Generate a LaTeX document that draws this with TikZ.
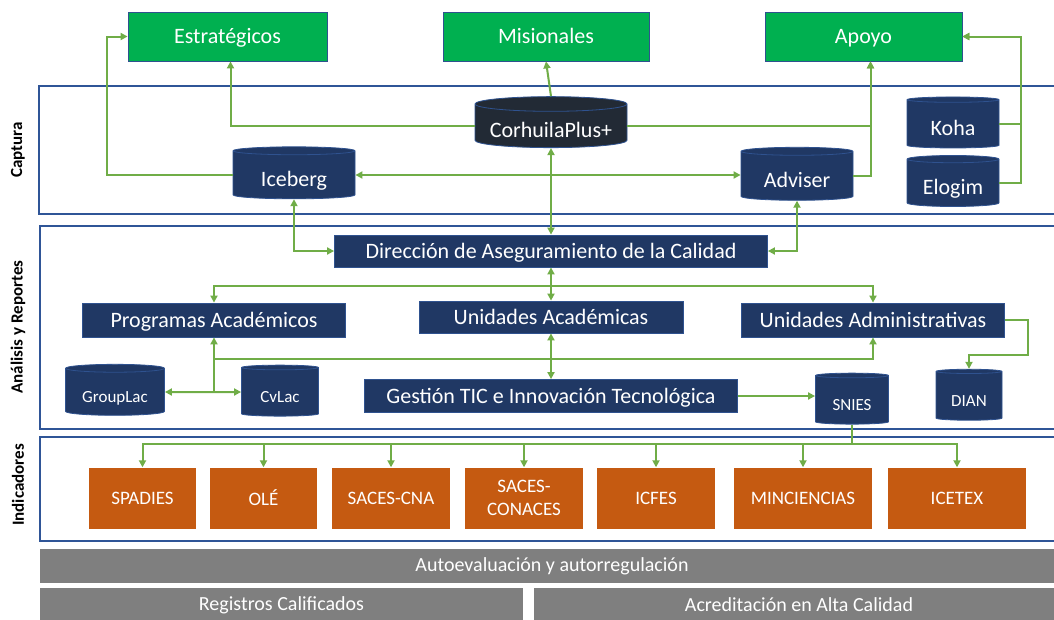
\documentclass[tikz,border=0pt]{standalone}
\usepackage{fontspec}
\setmainfont{Carlito}
\usetikzlibrary{shapes.geometric,arrows.meta}
\definecolor{verde}{HTML}{00B050}
\definecolor{navy}{HTML}{203864}
\definecolor{oscuro}{HTML}{222A35}
\definecolor{edge}{HTML}{2F528F}
\definecolor{marco}{HTML}{2F5597}
\definecolor{linea}{HTML}{70AD47}
\definecolor{naranja}{HTML}{C55A11}
\definecolor{gris}{HTML}{7F7F7F}

\begin{document}
\begin{tikzpicture}[x=1pt,y=-1pt,
  box/.style={draw=edge,line width=0.8pt,minimum height=33,inner sep=0pt,text=white,text height=14pt,text depth=0pt,font=\fontsize{22}{26}\selectfont},
  gbox/.style={box,fill=verde,minimum height=49},
  nbox/.style={box,fill=navy},
  obox/.style={fill=naranja,text=white,minimum height=61,inner sep=0pt,align=center,font=\fontsize{19}{23}\selectfont},
  bar/.style={fill=gris,text=white,minimum height=34,inner sep=0pt,font=\fontsize{20}{24}\selectfont},
  db/.style={cylinder,shape border rotate=90,aspect=0.12,draw=edge,line width=0.8pt,fill=navy,text=white,inner sep=0pt,text height=23pt,text depth=0pt,font=\fontsize{22}{26}\selectfont},
  sdb/.style={db,text height=21pt,font=\fontsize{17}{20}\selectfont},
  zone/.style={draw=marco,line width=2.5pt},
  lab/.style={rotate=90,font=\bfseries\fontsize{17}{20}\selectfont},
  con/.style={draw=linea,line width=2pt},
  arr/.style={con,-{Triangle[length=7pt,width=7pt]}},
  arrs/.style={con,{Triangle[length=7pt,width=7pt]}-{Triangle[length=7pt,width=7pt]}}]
  \useasboundingbox (0,0) rectangle (1054,619);

  \draw[zone] (39,86) rectangle (1064,214);
  \draw[zone] (40,226) rectangle (1064,429);
  \draw[zone] (40,437) rectangle (1064,541);
  \node[lab] (lcap) at (18,150) {Captura};
  \node[lab] (lana) at (18,327) {Análisis y Reportes};
  \node[lab] (lind) at (18,485) {Indicadores};

  \node[gbox,minimum width=199] (estr) at (227.5,36.5) {Estratégicos};
  \node[gbox,minimum width=206] (misi) at (546,36.5) {Misionales};
  \node[gbox,minimum width=197] (apoy) at (863.5,36.5) {Apoyo};

  \node[db,fill=oscuro,minimum width=152,minimum height=51] (corh) at (551,126) {CorhuilaPlus+};
  \node[db,minimum width=122,minimum height=52] (iceb) at (294,175) {Iceberg};
  \node[db,minimum width=112,minimum height=53] (advi) at (797,176) {Adviser};
  \node[db,minimum width=92,minimum height=51] (koha) at (953,124) {Koha};
  \node[db,minimum width=92,minimum height=51] (elog) at (953,183) {Elogim};

  \node[nbox,minimum width=433,minimum height=32] (dire) at (551,251) {Dirección de Aseguramiento de la Calidad};
  \node[nbox,minimum width=263,minimum height=34] (prog) at (214,320) {Programas Académicos};
  \node[nbox,minimum width=264,minimum height=32] (unac) at (551,317) {Unidades Académicas};
  \node[nbox,minimum width=263,minimum height=34] (unad) at (873,320) {Unidades Administrativas};
  \node[nbox,minimum width=373,minimum height=33] (gest) at (551,396) {Gestión TIC e Innovación Tecnológica};

  \node[sdb,minimum width=99,minimum height=51] (grou) at (115,392) {GroupLac};
  \node[sdb,minimum width=77,minimum height=51] (cvla) at (280,392) {CvLac};
  \node[sdb,minimum width=73,minimum height=51] (snie) at (852,400) {SNIES};
  \node[sdb,minimum width=66,minimum height=51] (dian) at (969,396) {DIAN};

  \foreach \nm/\x/\w/\t in {spad/142.5/107/SPADIES,ole/263.5/107/OLÉ,cna/391/118/SACES-CNA,
      conac/524/118/{SACES-\\CONACES},icfes/656/118/ICFES,minc/803/138/MINCIENCIAS,icet/957/138/ICETEX}
    \node[obox,minimum width=\w] (\nm) at (\x,498) {\t};

  \node[bar,minimum width=1024] (auto) at (552,566) {Autoevaluación y autorregulación};
  \node[bar,minimum width=483] (regi) at (281.5,605) {Registros Calificados};
  \node[bar,minimum width=530] (acre) at (799,605) {Acreditación en Alta Calidad};

  \draw[arr] (iceb.west) -- ++(-126,0) |- (estr.west);
  \draw[arr] (corh.west) -| ([xshift=3pt]estr.south);
  \draw[arr] (corh.north) -- (misi.south);
  \draw[arr] (corh.east) -| ([xshift=7pt]apoy.south);
  \draw[arr] (advi.east) -| ([xshift=7pt]apoy.south);
  \draw[arr] (koha.east) -- ++(22,0) |- (apoy.east);
  \draw[arr] (elog.east) -- ++(22,0) |- (apoy.east);
  \draw[arrs] (iceb.east) -- (iceb.east -| advi.west);
  \draw[arrs] (corh.south) -- (dire.north);
  \draw[arrs] (iceb.south) |- (dire.west);
  \draw[arrs] (advi.south) |- (dire.east);
  \draw[arrs] (dire.south) -- (unac.north);
  \coordinate (bus1) at ([yshift=-19pt]dire.south);
  \draw[arr] (bus1) -| (prog.north);
  \draw[arr] (bus1) -| (unad.north);
  \draw[arrs] (unac.south) -- (gest.north);
  \coordinate (bus2) at ([yshift=-26pt]unac.south);
  \draw[arr] (bus2) -| (prog.south);
  \draw[arr] (bus2) -| (unad.south);
  \draw[con] (prog.south |- bus2) -- (prog.south |- grou.east);
  \draw[arrs] (grou.east) -- (cvla.west);
  \draw[arr] (unad.east) -- ++(23,0) -- ++(0,35) -| (dian.north);
  \draw[arr] (gest.east) -- (gest.east -| snie.west);
  \draw[con] (snie.south) -- ++(0,19) coordinate (bus3);
  \foreach \nm in {spad,ole,cna,conac,icfes,minc,icet}
    \draw[arr] (bus3) -| (\nm.north);
\end{tikzpicture}
\end{document}
